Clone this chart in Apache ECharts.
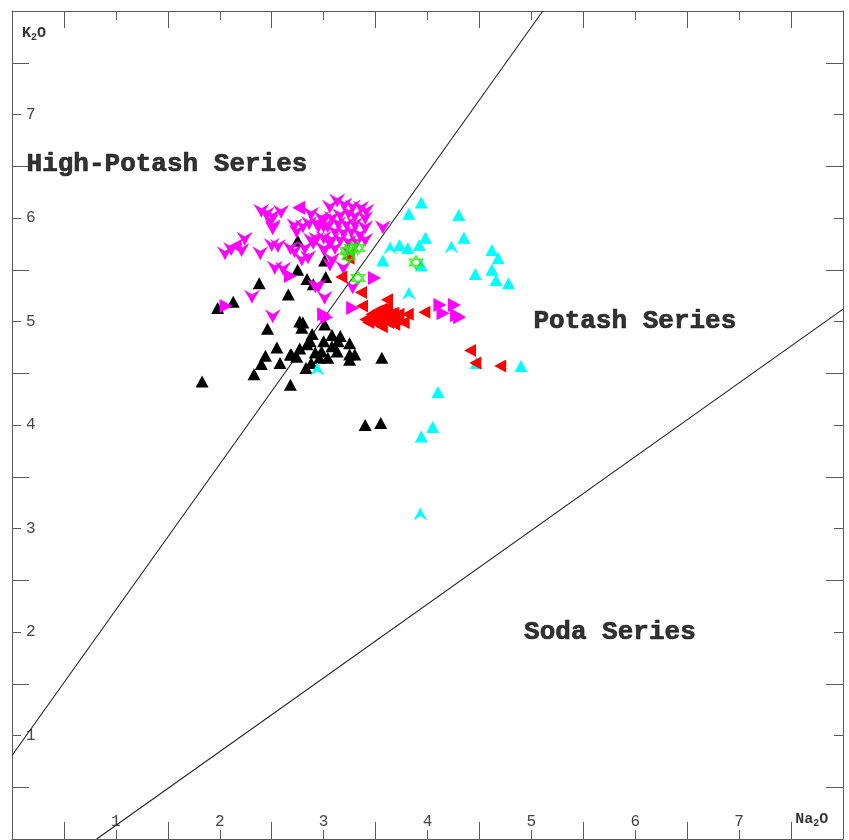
<!DOCTYPE html>
<html>
<head>
<meta charset="utf-8">
<script src="https://cdn.jsdelivr.net/npm/echarts@6/dist/echarts.min.js"></script>
<style>
  html, body { margin: 0; padding: 0; background: #fff; }
  #chart { width: 849px; height: 840px; }
</style>
</head>
<body>
<div id="chart"></div>
<script>
// Na2O (x) vs K2O (y), wt%
const blackTriangles = [
  [1.83,4.42],[1.98,5.13],[2.13,5.19],[2.38,5.37],[2.75,5.78],[3.01,5.59],[2.75,5.50],
  [2.84,5.41],[3.02,5.43],[2.90,5.36],[2.66,5.26],[2.77,5.00],[2.80,4.99],[2.79,4.94],
  [2.46,4.93],[3.01,4.97],[2.89,4.88],[2.55,4.75],[2.44,4.67],[2.40,4.59],[2.58,4.60],
  [2.69,4.68],[2.74,4.66],[2.77,4.74],[2.84,4.78],[2.87,4.81],[3.00,4.81],[3.08,4.87],
  [3.16,4.86],[3.14,4.81],[3.08,4.76],[2.98,4.71],[2.92,4.70],[3.13,4.71],[3.25,4.79],
  [3.25,4.68],[3.30,4.68],[3.25,4.63],[3.04,4.65],[2.96,4.65],[2.88,4.60],[2.83,4.55],
  [2.33,4.49],[2.68,4.39],[3.56,4.65],[3.40,4.00],[3.55,4.02],[2.68,4.68]
];
const magentaDarts = [
  [2.40,6.07],[2.45,6.04],[2.51,6.02],[2.59,6.06],[2.49,5.97],[2.51,5.92],[2.51,5.90],
  [2.88,6.04],[2.86,5.95],[2.72,5.93],[2.80,5.92],[2.74,5.87],[2.93,5.95],[3.00,5.98],
  [3.00,5.92],[2.24,5.80],[2.11,5.70],[2.21,5.69],[2.05,5.66],[2.39,5.66],[2.50,5.74],
  [2.56,5.73],[2.68,5.71],[2.72,5.68],[2.82,5.71],[2.88,5.79],[2.93,5.80],[2.90,5.76],
  [3.00,5.70],[3.06,5.76],[2.79,5.60],[3.08,5.60],[2.53,5.52],[2.61,5.51],[2.95,5.34],
  [2.31,5.24],[3.01,5.23],[2.51,5.05],[3.28,5.33],[2.92,5.34],[3.06,5.55],[2.85,5.62],
  [3.19,5.52],
  [3.13,6.17],[3.06,6.11],[3.20,6.13],[3.28,6.11],[3.36,6.10],[3.41,6.07],[2.98,6.00],
  [3.08,6.00],[3.16,6.03],[3.24,6.05],[3.30,6.02],[3.40,6.00],[3.04,5.92],[3.14,5.95],
  [3.22,5.94],[3.30,5.94],[3.40,5.91],[2.95,5.92],[3.11,5.87],[3.19,5.86],[3.27,5.87],
  [3.35,5.84],[3.00,5.81],[3.08,5.79],[3.16,5.79],[3.24,5.77],[3.32,5.77],[3.40,5.79],
  [3.01,5.70],[3.11,5.71],[3.57,5.91],[3.25,5.66]
];
const magentaRight = [
  [3.49,5.42],[2.68,5.44],[4.12,5.16],[4.26,5.16],[4.15,5.08],[4.31,5.04],[4.28,5.06],
  [3.28,5.13],[3.00,5.07],[3.03,5.04],[2.06,5.15]
];
const magentaLeft = [[2.76,6.10],[2.15,5.73]];
const cyanTriangles = [
  [3.94,6.15],[3.82,6.04],[4.30,6.03],[3.98,5.81],[4.35,5.81],[3.73,5.74],[3.81,5.71],
  [3.92,5.74],[3.57,5.59],[3.94,5.54],[4.62,5.69],[4.68,5.61],[4.62,5.50],[4.46,5.46],
  [4.66,5.40],[4.78,5.37],[4.47,4.60],[4.90,4.57],[4.10,4.32],[4.05,3.98],[3.94,3.89]
];
const cyanDarts = [[3.64,5.71],[4.23,5.72],[3.82,5.27],[2.94,4.54],[3.93,3.14]];
const redLeft = [
  [3.24,5.61],[3.17,5.43],[3.36,5.28],[3.61,5.21],[3.37,5.15],[3.46,5.07],[3.51,5.10],
  [3.56,5.12],[3.61,5.13],[3.49,5.02],[3.54,4.99],[3.59,5.04],[3.64,5.07],[3.62,4.99],
  [3.67,5.08],[3.70,5.02],[3.72,5.07],[3.77,4.99],[3.81,5.07],[3.97,5.09],[3.40,5.02],
  [3.43,4.99],[3.56,4.95],[3.68,4.97],[3.52,5.05],[3.57,5.08],[3.65,5.02],[3.47,5.00],
  [4.41,4.72],[4.46,4.60],[4.70,4.57]
];
const greenStars = [[3.22,5.68],[3.27,5.71],[3.33,5.71],[3.24,5.63],[3.33,5.42],[3.89,5.57]];

// Series boundaries (endpoints in Na2O, K2O)
const highPotashBoundary = [[0, 0.807], [5.11, 8]];
const sodaBoundary = [[0.815, 0], [8, 5.12]];

// Field names and where they sit
const fieldNames = ['High-Potash Series', 'Potash Series', 'Soda Series'];
const fieldAnchors = [[0.14, 6.52], [5.02, 5.0], [4.93, 2.0]];

const axisMin = 0, axisMax = 8;
const tickLabelValues = [1, 2, 3, 4, 5, 6, 7];

const MONO = '"Courier New", "Liberation Mono", monospace';
const FRAME = '#5a5a5a';

const SYM = {
  dartDown: 'path://M0,0 L5,3.4 L10,0 L7,5.6 L5,10 L3,5.6 Z',
  dartUp: 'path://M0,10 L5,6.6 L10,10 L7,4.4 L5,0 L3,4.4 Z',
  left: 'path://M0,5 L10,0 L10,10 Z',
  right: 'path://M0,0 L10,5 L0,10 Z',
  hexagram: 'path://M5,0 L9.33,7.5 L0.67,7.5 Z M5,10 L0.67,2.5 L9.33,2.5 Z'
};

function valueAxis(pos, withLabels) {
  return {
    type: 'value', min: axisMin, max: axisMax, interval: 1, position: pos,
    axisLine: { show: true, onZero: false, lineStyle: { color: FRAME, width: 1 } },
    axisTick: { show: true, inside: true, length: 9, lineStyle: { color: FRAME, width: 1 } },
    minorTick: { show: true, splitNumber: 2, length: 17, lineStyle: { color: FRAME, width: 1 } },
    splitLine: { show: false },
    minorSplitLine: { show: false },
    axisLabel: withLabels ? {
      show: true, inside: true, fontFamily: MONO, fontSize: 16, color: '#444',
      margin: pos === 'bottom' ? 9 : 14,
      formatter: v => (tickLabelValues.indexOf(v) >= 0 ? String(v) : '')
    } : { show: false }
  };
}

function scatter(name, data, symbol, size, color, z) {
  return {
    name, type: 'scatter', data, symbol, symbolSize: size, z,
    itemStyle: { color, opacity: 1 },
    emphasis: { disabled: true }
  };
}

const chart = echarts.init(document.getElementById('chart'), null, { renderer: 'canvas' });

chart.setOption({
  backgroundColor: '#fff',
  animation: false,
  grid: { left: 12, right: 6, top: 11, bottom: 1, containLabel: false },
  xAxis: [valueAxis('bottom', true), valueAxis('top', false)],
  yAxis: [valueAxis('left', true), valueAxis('right', false)],
  series: [
    {
      name: 'boundary1', type: 'line', data: highPotashBoundary, symbol: 'none',
      lineStyle: { color: '#222', width: 1.1 }, z: 1, silent: true
    },
    {
      name: 'boundary2', type: 'line', data: sodaBoundary, symbol: 'none',
      lineStyle: { color: '#222', width: 1.1 }, z: 1, silent: true
    },
    scatter('black', blackTriangles, 'triangle', [13, 12], '#000', 2),
    scatter('magentaDarts', magentaDarts, SYM.dartDown, [16, 14], '#ff00ff', 3),
    scatter('magentaRight', magentaRight, SYM.right, [13, 14], '#ff00ff', 3),
    scatter('magentaLeft', magentaLeft, SYM.left, [13, 14], '#ff00ff', 3),
    scatter('cyan', cyanTriangles, 'triangle', [13, 12], '#00ffff', 4),
    scatter('cyanDarts', cyanDarts, SYM.dartUp, [14, 13], '#00ffff', 4),
    scatter('red', redLeft, SYM.left, [12, 13], '#ff0000', 5),
    {
      name: 'green', type: 'scatter', data: greenStars, symbol: SYM.hexagram, symbolSize: 13, z: 6,
      itemStyle: { color: 'rgba(0,0,0,0)', borderColor: '#22ee00', borderWidth: 1.6 }
    },
    {
      name: 'fields', type: 'scatter', symbolSize: 0, z: 7, silent: true,
      data: fieldAnchors.map((p, i) => ({ value: p, name: fieldNames[i] })),
      label: {
        show: true, position: 'right', distance: 0, formatter: '{b}',
        fontFamily: MONO, fontWeight: 'bold', fontSize: 26, color: '#000',
        textBorderColor: '#000', textBorderWidth: 0.7
      }
    },
    {
      name: 'axisTitles', type: 'scatter', symbolSize: 0, z: 7, silent: true,
      data: [
        { value: [0.096, 7.79], name: 'K2O', label: { formatter: '{b|K}{s|2}{b|O}' } },
        { value: [7.54, 0.19], name: 'Na2O', label: { formatter: '{b|Na}{s|2}{b|O}' } }
      ],
      label: {
        show: true, position: 'right', distance: 0,
        rich: {
          b: { fontFamily: MONO, fontWeight: 'bold', fontSize: 15, color: '#000' },
          s: { fontFamily: MONO, fontWeight: 'bold', fontSize: 10, color: '#000', padding: [9, 0, 0, 0] }
        }
      }
    }
  ]
});
</script>
</body>
</html>
